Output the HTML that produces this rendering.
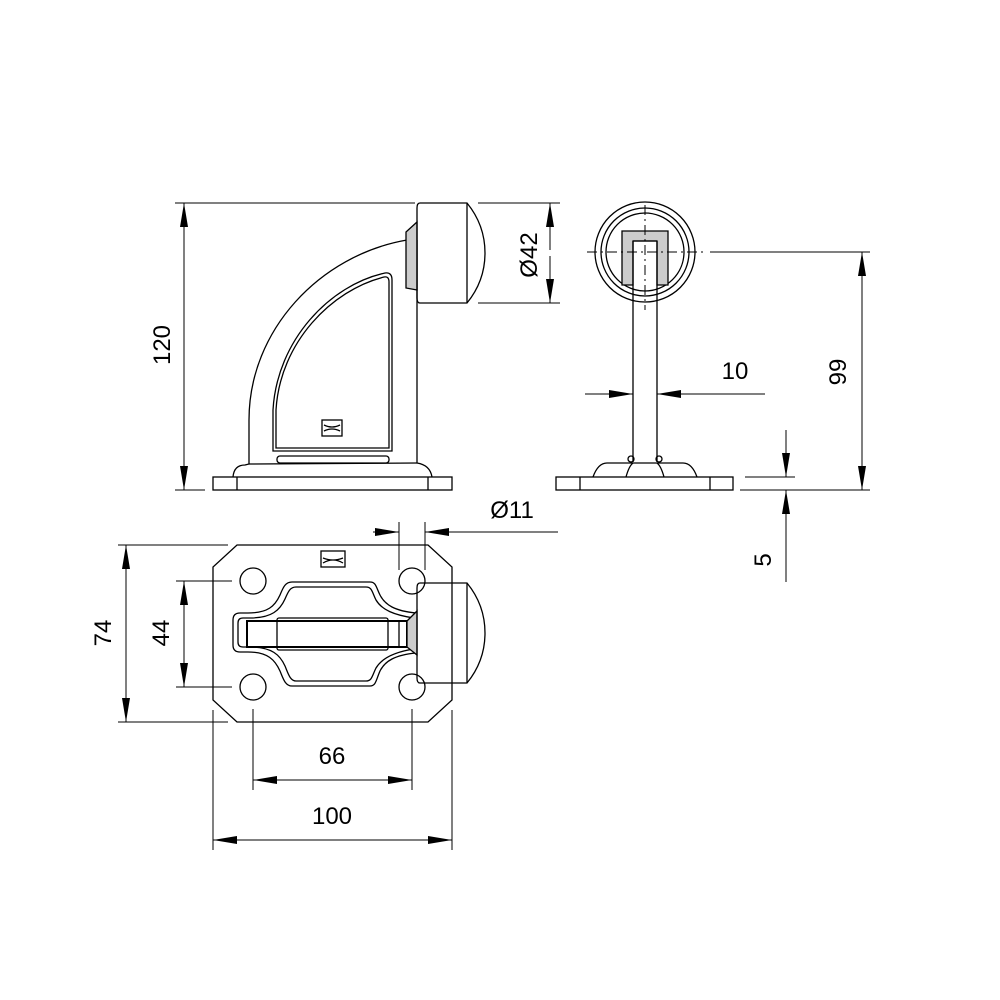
<!DOCTYPE html>
<html><head><meta charset="utf-8"><style>html,body{margin:0;padding:0;background:#fff}svg{display:block}</style></head>
<body>
<svg width="1000" height="1000" viewBox="0 0 1000 1000" xmlns="http://www.w3.org/2000/svg">
<defs>
<marker id="a" viewBox="0 0 24 8" refX="24" refY="4" markerWidth="24" markerHeight="8" markerUnits="userSpaceOnUse" orient="auto"><path d="M0,0 L24,4 L0,8 z" fill="#000"/></marker>
</defs>
<g fill="none" stroke="#000" stroke-width="1.3">
<!-- side view -->
<rect x="213" y="477" width="239" height="13"/>
<line x1="237" y1="477" x2="237" y2="490"/><line x1="428" y1="477" x2="428" y2="490"/>
<path d="M233,477 Q234,465 245,465 L249,464 L249,420 C249,330 320,255 407,240 L417,240"/>
<path d="M417,240 L417,463 Q430,465 432,477"/>
<line x1="249" y1="464" x2="417" y2="463"/>
<path d="M273,451 L273,410 C277,340 330,285 385,273 Q392,272 392,280 L392,451 Z"/>
<path d="M276,448 L276,410 C280,342 332,290 384,277 Q389,276 389,282 L389,448 Z"/>
<rect x="277" y="456" width="112" height="7" rx="3"/>
<rect x="322" y="420" width="20" height="16"/>
<path d="M324,425 Q332,429 340,425 M324,431 Q332,427 340,431"/>
<polygon points="406,232 417,222 417,290 406,288" fill="#ccc"/>
<path d="M420,203 L467,203 Q485,225 485,253 Q485,281 467,303 L420,303 Q417,303 417,298 L417,208 Q417,203 420,203 Z"/>
<line x1="467" y1="203" x2="467" y2="303"/>
<!-- dims side -->
<line x1="175" y1="203" x2="415" y2="203" stroke-width="1"/>
<line x1="175" y1="490" x2="205" y2="490" stroke-width="1"/>
<line x1="184" y1="250" x2="184" y2="203" marker-end="url(#a)" stroke-width="1"/>
<line x1="184" y1="440" x2="184" y2="490" marker-end="url(#a)" stroke-width="1"/>
<line x1="184" y1="250" x2="184" y2="440" stroke-width="1"/>
<line x1="478" y1="203" x2="560" y2="203" stroke-width="1"/>
<line x1="478" y1="303" x2="560" y2="303" stroke-width="1"/>
<line x1="550" y1="250" x2="550" y2="203" marker-end="url(#a)" stroke-width="1"/>
<line x1="550" y1="256" x2="550" y2="303" marker-end="url(#a)" stroke-width="1"/>
<!-- front view -->
<circle cx="645" cy="252" r="50"/><circle cx="645" cy="252" r="44"/><circle cx="645" cy="252" r="39"/>
<path d="M622,285 L622,231 L668,231 L668,285 L657,285 L657,241 L633,241 L633,285 Z" fill="#ccc"/>
<line x1="633" y1="241" x2="633" y2="462"/><line x1="657" y1="241" x2="657" y2="462"/>
<line x1="633" y1="241" x2="657" y2="241"/>
<line x1="645" y1="205" x2="645" y2="310" stroke-dasharray="10,4,2,4" stroke-width="1"/>
<line x1="587" y1="252" x2="703" y2="252" stroke-dasharray="10,4,2,4" stroke-width="1"/>
<rect x="556" y="477" width="177" height="13"/>
<line x1="580" y1="477" x2="580" y2="490"/><line x1="710" y1="477" x2="710" y2="490"/>
<path d="M593,477 Q598,463 607,463 L683,463 Q692,463 697,477"/>
<path d="M626,477 Q629,466 633,463 M664,477 Q661,466 657,463"/>
<circle cx="631" cy="459" r="3"/><circle cx="659" cy="459" r="3"/>
<line x1="710" y1="252" x2="870" y2="252" stroke-width="1"/>
<line x1="740" y1="490" x2="870" y2="490" stroke-width="1"/>
<line x1="862" y1="300" x2="862" y2="252" marker-end="url(#a)" stroke-width="1"/>
<line x1="862" y1="300" x2="862" y2="490" marker-end="url(#a)" stroke-width="1"/>
<line x1="585" y1="394" x2="633" y2="394" marker-end="url(#a)" stroke-width="1"/>
<line x1="765" y1="394" x2="657" y2="394" marker-end="url(#a)" stroke-width="1"/>
<line x1="745" y1="477" x2="795" y2="477" stroke-width="1"/>
<line x1="786" y1="430" x2="786" y2="477" marker-end="url(#a)" stroke-width="1"/>
<line x1="786" y1="582" x2="786" y2="490" marker-end="url(#a)" stroke-width="1"/>
<!-- top view -->
<polygon points="237,545 428,545 452,567 452,700 428,722 237,722 213,700 213,567"/>
<circle cx="253" cy="581" r="13"/><circle cx="412" cy="581" r="13"/>
<circle cx="253" cy="687" r="13"/><circle cx="412" cy="687" r="13"/>
<rect x="321" y="551" width="24" height="16"/>
<path d="M323,558 Q333,562 343,558 M323,563 Q333,557 343,563"/>
<path d="M416,613 C395,611 385,605 380,595 C376,587 376,582 370,582 L292,582 C285,582 283,588 280,595 C275,606 268,613 248,613 L240,613 Q233,613 233,620 L233,645 Q233,652 240,652 L248,652 C268,652 275,660 280,671 C283,678 285,686 292,686 L370,686 C376,686 376,680 380,671 C385,661 395,655 416,653"/>
<path d="M414,618 C394,615 382,610 376,600 C372,592 372,587 366,587 L296,587 C290,587 288,592 285,599 C280,610 272,618 250,618 L243,618 Q238,618 238,623 L238,642 Q238,647 243,647 L250,647 C272,647 280,655 285,666 C288,673 290,681 296,681 L366,681 C372,681 372,676 376,668 C382,658 394,652 414,649"/>
<rect x="247" y="621" width="160" height="26" stroke-width="2"/>
<rect x="277" y="618" width="111" height="32" rx="2"/>
<line x1="399" y1="621" x2="399" y2="647"/>
<polygon points="407,621 417,611 417,655 407,647" fill="#ccc"/>
<path d="M420,583 L467,583 Q485,605 485,633 Q485,661 467,683 L420,683 Q417,683 417,678 L417,588 Q417,583 420,583 Z"/>
<line x1="467" y1="583" x2="467" y2="683"/>
<!-- dims top -->
<line x1="118" y1="545" x2="228" y2="545" stroke-width="1"/>
<line x1="118" y1="722" x2="228" y2="722" stroke-width="1"/>
<line x1="126" y1="630" x2="126" y2="545" marker-end="url(#a)" stroke-width="1"/>
<line x1="126" y1="630" x2="126" y2="722" marker-end="url(#a)" stroke-width="1"/>
<line x1="176" y1="581" x2="232" y2="581" stroke-width="1"/>
<line x1="176" y1="687" x2="232" y2="687" stroke-width="1"/>
<line x1="184" y1="630" x2="184" y2="581" marker-end="url(#a)" stroke-width="1"/>
<line x1="184" y1="630" x2="184" y2="687" marker-end="url(#a)" stroke-width="1"/>
<line x1="213" y1="710" x2="213" y2="850" stroke-width="1"/>
<line x1="452" y1="710" x2="452" y2="850" stroke-width="1"/>
<line x1="253" y1="709" x2="253" y2="790" stroke-width="1"/>
<line x1="412" y1="709" x2="412" y2="790" stroke-width="1"/>
<line x1="330" y1="780" x2="253" y2="780" marker-end="url(#a)" stroke-width="1"/>
<line x1="330" y1="780" x2="412" y2="780" marker-end="url(#a)" stroke-width="1"/>
<line x1="330" y1="840" x2="213" y2="840" marker-end="url(#a)" stroke-width="1"/>
<line x1="330" y1="840" x2="452" y2="840" marker-end="url(#a)" stroke-width="1"/>
<line x1="399" y1="522" x2="399" y2="570" stroke-width="1"/>
<line x1="425" y1="522" x2="425" y2="570" stroke-width="1"/>
<line x1="373" y1="532" x2="399" y2="532" marker-end="url(#a)" stroke-width="1"/>
<line x1="558" y1="532" x2="425" y2="532" marker-end="url(#a)" stroke-width="1"/>
</g>
<g font-family="Liberation Sans, sans-serif" font-size="24" fill="#000" text-anchor="middle">
<text transform="translate(170,345) rotate(-90)">120</text>
<text transform="translate(537,255) rotate(-90)">Ø42</text>
<text transform="translate(846,372) rotate(-90)">99</text>
<text transform="translate(771,560) rotate(-90)">5</text>
<text transform="translate(111,633) rotate(-90)">74</text>
<text transform="translate(169,633) rotate(-90)">44</text>
<text x="735" y="379">10</text>
<text x="512" y="518">Ø11</text>
<text x="332" y="764">66</text>
<text x="332" y="824">100</text>
</g>
</svg>
</body></html>
